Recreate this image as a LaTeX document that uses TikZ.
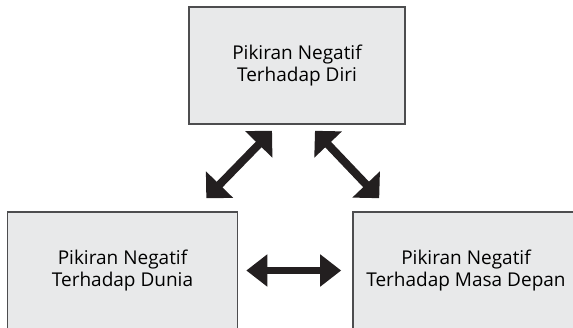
\documentclass[tikz,border=0pt]{standalone}
\usepackage{fontspec}
\setmainfont{Open Sans}
\usepackage{xcolor}
\usetikzlibrary{arrows.meta}
\definecolor{kotakisi}{HTML}{E8E9EA}
\definecolor{kotakgaris}{HTML}{4D4D4F}
\definecolor{panah}{HTML}{231F20}

\begin{document}
\begin{tikzpicture}[x=1pt,y=1pt,
	pikiran/.style={draw=kotakgaris,fill=kotakisi,line width=1.6pt,minimum width=216pt,minimum height=117pt,inner sep=0pt,align=center,font=\fontsize{19}{22}\selectfont},
	miring/.style={panah,line width=8pt,{Triangle[width=37pt,length=19pt]}-{Triangle[width=37pt,length=19pt]}},
	datar/.style={panah,line width=7.5pt,{Triangle[width=31pt,length=21pt]}-{Triangle[width=31pt,length=21pt]}}]
	\useasboundingbox (0,0) rectangle (573,327);
	\node[pikiran] at (297,261.5) (diri) {Pikiran Negatif\\Terhadap Diri};
	\node[pikiran,minimum width=230pt] at (122.5,56.5) (dunia) {Pikiran Negatif\\Terhadap Dunia};
	\node[pikiran,minimum width=226pt] at (466,56.5) (masa) {Pikiran Negatif\\Terhadap Masa Depan};
	\draw [miring] ([xshift=-25pt,yshift=-6pt]diri.south) -- ([xshift=-32pt,yshift=13pt]dunia.north east);
	\draw [miring] ([xshift=18pt,yshift=-6pt]diri.south) -- ([xshift=27pt,yshift=13pt]masa.north west);
	\draw [datar,shorten <=8pt,shorten >=11pt] (dunia.east) -- (masa.west);
\end{tikzpicture}
\end{document}
